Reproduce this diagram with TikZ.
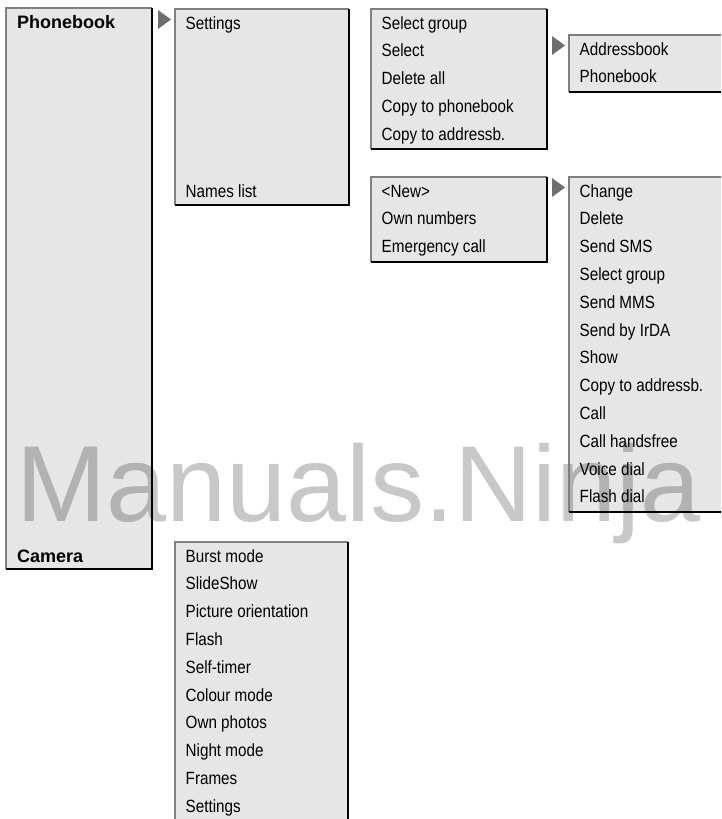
\documentclass[tikz,border=0pt]{standalone}
\usepackage{fontspec}
\setmainfont{Liberation Sans}
\newfontfamily\itemfont{Liberation Sans}[FakeStretch=0.86]
\newfontfamily\wmfont{Liberation Sans}
\definecolor{boxgray}{HTML}{E6E6E6}
\definecolor{edgegray}{HTML}{7F7F7F}
\definecolor{trigray}{HTML}{6E6E6E}
\definecolor{wmlight}{HTML}{C8C8C8}
\definecolor{wmdark}{HTML}{B2B2B2}
\tikzset{
  lightedge/.style={draw=edgegray, line width=1.5pt},
  darkedge/.style={draw=black, line width=2.8pt, line join=miter},
  item/.style={anchor=base west, inner sep=0pt, font=\itemfont\fontsize{17.7}{20}\selectfont},
  head/.style={anchor=base west, inner sep=0pt, font=\fontsize{18}{20}\selectfont\bfseries},
  wmark/.style={anchor=base west, inner sep=0pt, font=\wmfont\fontsize{108}{110}\selectfont},
  tri/.style={fill=trigray},
}
\newcommand\menufill[4]{\fill[boxgray] (#1,#2) rectangle (#3,#4);}
\newcommand\menuedge[4]{\draw[lightedge] (#1,#4) -- (#1,#2) -- (#3,#2);
  \draw[darkedge] (#3,#2) -- (#3,#4) -- (#1,#4);}
\newcommand\menutri[3]{\fill[tri] (#1-17,#2+1) -- (#1-4,#2+10.5) -- (#1-17,#2+20) -- cycle;}
\begin{document}
\begin{tikzpicture}[x=1pt,y=-1pt]
\useasboundingbox (0,0) rectangle (721,819);
\clip (0,0) rectangle (721,819);
% box fills
\menufill{6}{8}{152}{569}
\menufill{175}{9}{349}{205}
\menufill{371}{9}{547}{149}
\menufill{569}{35}{724}{92}
\menufill{371}{177}{547}{262}
\menufill{569}{177}{724}{512}
\menufill{175}{542}{348}{830}
% watermark
\node[wmark, text=wmlight] (wm) at (16,521) {Manuals.Ninja};
\begin{scope}
  \clip (6,8) rectangle (152,569) (175,9) rectangle (349,205)
        (371,9) rectangle (547,149) (569,35) rectangle (724,92)
        (371,177) rectangle (547,262) (569,177) rectangle (724,512)
        (175,542) rectangle (348,830);
  \node[wmark, text=wmdark] (wmd) at (16,521) {Manuals.Ninja};
\end{scope}
% box edges
\menuedge{6}{8}{152}{569}
\menuedge{175}{9}{349}{205}
\menuedge{371}{9}{547}{149}
\menuedge{569}{35}{724}{92}
\menuedge{371}{177}{547}{262}
\menuedge{569}{177}{724}{512}
\menuedge{175}{542}{348}{830}
% arrows
\menutri{175}{9}
\menutri{371}{9}
\menutri{569}{35}
\menutri{371}{177}
\menutri{569}{177}
\menutri{175}{542}
% column 1
\node[head] (phonebook) at (17,28) {Phonebook};
\node[head] (camera) at (17,562) {Camera};
% column 2
\node[item] (settings) at (185.5,29) {Settings};
\node[item] (names) at (185.5,197) {Names list};
% settings submenu
\foreach \t [count=\i from 0] in {Select group,Select,Delete all,Copy to phonebook,Copy to addressb.}
  \node[item] (s\i) at (381.5,29+27.8*\i) {\t};
\foreach \t [count=\i from 0] in {Addressbook,Phonebook}
  \node[item] (a\i) at (579.5,55+27.8*\i) {\t};
\foreach \t [count=\i from 0] in {<New>,Own numbers,Emergency call}
  \node[item] (n\i) at (381.5,197+27.8*\i) {\t};
\foreach \t [count=\i from 0] in {Change,Delete,Send SMS,Select group,Send MMS,Send by IrDA,Show,Copy to addressb.,Call,Call handsfree,Voice dial,Flash dial}
  \node[item] (c\i) at (579.5,197+27.8*\i) {\t};
\foreach \t [count=\i from 0] in {Burst mode,SlideShow,Picture orientation,Flash,Self-timer,Colour mode,Own photos,Night mode,Frames,Settings}
  \node[item] (m\i) at (185.5,562+27.8*\i) {\t};
\end{tikzpicture}
\end{document}
